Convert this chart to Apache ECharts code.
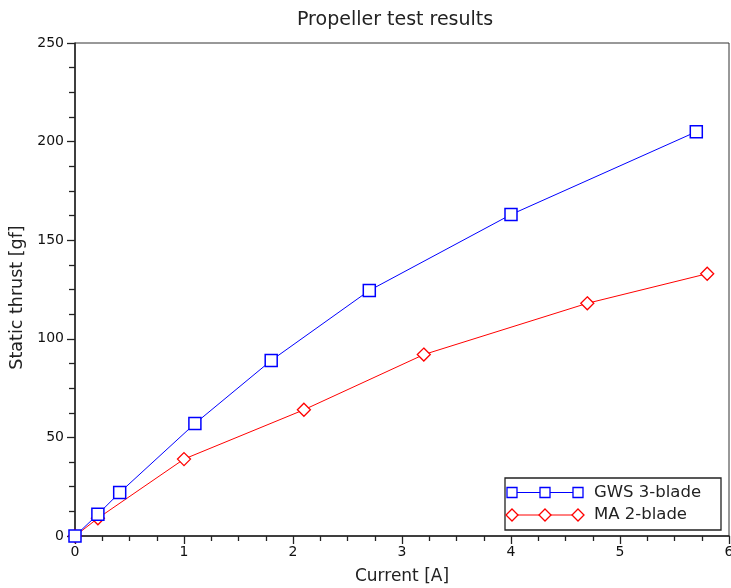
<!DOCTYPE html>
<html>
<head>
<meta charset="utf-8">
<script src="https://cdn.jsdelivr.net/npm/echarts@6/dist/echarts.min.js"></script>
<style>
  html, body { margin: 0; padding: 0; background: #fff; }
  #chart { width: 731px; height: 588px; }
</style>
</head>
<body>
<div id="chart"></div>
<script>
// current [A] vs static thrust [gf]
const gwsCurrent = [0, 0.21, 0.41, 1.1, 1.8, 2.7, 4.0, 5.7]
const gwsThrust = [0, 11, 22, 57, 89, 124.5, 163, 205]
const maCurrent = [0, 0.21, 1.0, 2.1, 3.2, 4.7, 5.8]
const maThrust = [0, 9, 39, 64, 92, 118, 133]
const seriesNames = ['GWS 3-blade', 'MA 2-blade']

const FONT = 'DejaVu Sans'
const BLUE = '#0000ff'
const RED = '#ff0000'

const chart = echarts.init(document.getElementById('chart'))

const pairs = (xs, ys) => xs.map((x, i) => [x, ys[i]])

// legend drawn by hand: Scilab style shows three markers per entry
const lgX = 505, lgY = 478
const markerXs = [512, 545, 578]
function legendRow(y, color, shape) {
  const els = [{
    type: 'line', z: 11, shape: { x1: markerXs[0], y1: y, x2: markerXs[2], y2: y },
    style: { stroke: color, lineWidth: 1 }
  }]
  markerXs.forEach(x => {
    if (shape === 'rect') {
      els.push({ type: 'rect', z: 12, shape: { x: x - 5, y: y - 5, width: 10, height: 10 },
        style: { fill: '#fff', stroke: color, lineWidth: 1.3 } })
    } else {
      els.push({ type: 'polygon', z: 12, shape: { points: [[x, y - 6], [x + 6, y], [x, y + 6], [x - 6, y]] },
        style: { fill: '#fff', stroke: color, lineWidth: 1.3 } })
    }
  })
  return els
}

chart.setOption({
  animation: false,
  title: {
    text: 'Propeller test results',
    left: 292, top: 6,
    textStyle: { fontFamily: FONT, fontSize: 19, fontWeight: 'normal', color: '#222' }
  },
  grid: {
    left: 75, top: 43, right: 2, bottom: 52,
    show: true, borderColor: '#333', borderWidth: 1,
    containLabel: false, outerBoundsMode: 'none'
  },
  xAxis: {
    type: 'value', min: 0, max: 6, interval: 1,
    name: 'Current [A]', nameLocation: 'middle', nameGap: 32,
    nameTextStyle: { fontFamily: FONT, fontSize: 17, color: '#222' },
    axisLine: { onZero: false, lineStyle: { color: '#222', width: 1.5 } },
    axisTick: { show: true, inside: false, length: 8, lineStyle: { color: '#222', width: 1.3 } },
    minorTick: { show: true, splitNumber: 4, length: 5, lineStyle: { color: '#222', width: 1.3 } },
    splitLine: { show: false },
    axisLabel: { fontFamily: FONT, fontSize: 14, color: '#111', margin: 9 }
  },
  yAxis: {
    type: 'value', min: 0, max: 250, interval: 50,
    name: 'Static thrust [gf]', nameLocation: 'middle', nameGap: 42,
    nameTextStyle: { fontFamily: FONT, fontSize: 17.5, color: '#222', padding: [0, 16, 0, 0] },
    axisLine: { onZero: false, lineStyle: { color: '#222', width: 1.5 } },
    axisTick: { show: true, inside: false, length: 8, lineStyle: { color: '#222', width: 1.3 } },
    minorTick: { show: true, splitNumber: 4, length: 6, lineStyle: { color: '#222', width: 1.3 } },
    splitLine: { show: false },
    axisLabel: { fontFamily: FONT, fontSize: 14, color: '#111', margin: 11 }
  },
  series: [
    {
      name: seriesNames[0], type: 'line', data: pairs(gwsCurrent, gwsThrust),
      symbol: 'rect', symbolSize: 12,
      lineStyle: { color: BLUE, width: 1 },
      itemStyle: { color: '#fff', borderColor: BLUE, borderWidth: 1.5 },
      z: 3
    },
    {
      name: seriesNames[1], type: 'line', data: pairs(maCurrent, maThrust),
      symbol: 'diamond', symbolSize: 13,
      lineStyle: { color: RED, width: 1 },
      itemStyle: { color: '#fff', borderColor: RED, borderWidth: 1.3 },
      z: 2
    }
  ],
  graphic: [
    { type: 'rect', z: 10, shape: { x: lgX, y: lgY, width: 216, height: 52 },
      style: { fill: '#fff', stroke: '#222', lineWidth: 1.3 } },
    ...legendRow(492.5, BLUE, 'rect'),
    ...legendRow(515, RED, 'diamond'),
    { type: 'text', z: 12, x: 594, y: 493, style: { text: seriesNames[0], fontFamily: FONT, fontSize: 16.5,
      fill: '#222', verticalAlign: 'middle' } },
    { type: 'text', z: 12, x: 594, y: 515, style: { text: seriesNames[1], fontFamily: FONT, fontSize: 16.5,
      fill: '#222', verticalAlign: 'middle' } }
  ]
})
</script>
</body>
</html>
